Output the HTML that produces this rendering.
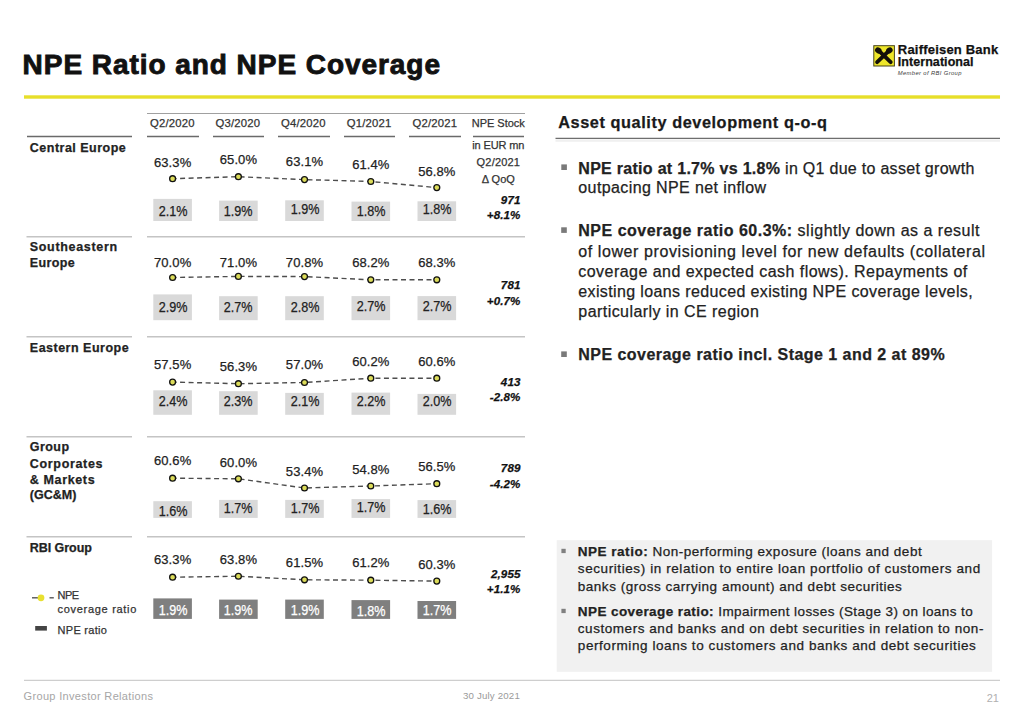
<!DOCTYPE html>
<html><head><meta charset="utf-8"><title>NPE Ratio and NPE Coverage</title>
<style>
html,body{margin:0;padding:0;background:#fff;}
body{width:1024px;height:724px;position:relative;overflow:hidden;font-family:'Liberation Sans', Arial, sans-serif;}
.t{position:absolute;white-space:nowrap;-webkit-text-stroke:0.25px currentColor;}
svg{position:absolute;left:0;top:0;}
</style></head><body>
<svg width="1024" height="724" viewBox="0 0 1024 724">
<rect x="24.00" y="95.30" width="976.00" height="3.40" fill="#e7df2a"/>
<g transform="translate(872,44)">
<rect x="1.8" y="1.7" width="20.6" height="20.3" fill="#eee62a" stroke="#46431a" stroke-width="1"/>
<g stroke="#141008" stroke-width="3.9" stroke-linecap="round" fill="none">
<line x1="5.1" y1="18.2" x2="16.3" y2="7.4"/>
<line x1="18.7" y1="18.2" x2="7.5" y2="7.4"/>
</g>
<g fill="#141008">
<ellipse cx="6.3" cy="6.4" rx="3.4" ry="2.9" transform="rotate(35 6.3 6.4)"/>
<ellipse cx="17.4" cy="6.4" rx="3.4" ry="2.9" transform="rotate(-35 17.4 6.4)"/>
</g>
</g>
<line x1="147" y1="113.5" x2="525" y2="113.5" stroke="#a0a0a0" stroke-width="1"/>
<line x1="27" y1="136.5" x2="132" y2="136.5" stroke="#6a6a6a" stroke-width="1.3"/>
<line x1="147" y1="136.5" x2="199" y2="136.5" stroke="#6a6a6a" stroke-width="1.3"/>
<line x1="213" y1="136.5" x2="264" y2="136.5" stroke="#6a6a6a" stroke-width="1.3"/>
<line x1="278" y1="136.5" x2="330" y2="136.5" stroke="#6a6a6a" stroke-width="1.3"/>
<line x1="344" y1="136.5" x2="395" y2="136.5" stroke="#6a6a6a" stroke-width="1.3"/>
<line x1="409" y1="136.5" x2="461" y2="136.5" stroke="#6a6a6a" stroke-width="1.3"/>
<line x1="473" y1="136.5" x2="524" y2="136.5" stroke="#6a6a6a" stroke-width="1.3"/>
<line x1="26.5" y1="236.7" x2="132" y2="236.7" stroke="#c4c4c4" stroke-width="1.6"/>
<line x1="147" y1="236.7" x2="525" y2="236.7" stroke="#c4c4c4" stroke-width="1.6"/>
<line x1="26.5" y1="336.7" x2="132" y2="336.7" stroke="#c4c4c4" stroke-width="1.6"/>
<line x1="147" y1="336.7" x2="525" y2="336.7" stroke="#c4c4c4" stroke-width="1.6"/>
<line x1="26.5" y1="436.7" x2="132" y2="436.7" stroke="#c4c4c4" stroke-width="1.6"/>
<line x1="147" y1="436.7" x2="525" y2="436.7" stroke="#c4c4c4" stroke-width="1.6"/>
<line x1="26.5" y1="536.7" x2="132" y2="536.7" stroke="#c4c4c4" stroke-width="1.6"/>
<line x1="147" y1="536.7" x2="525" y2="536.7" stroke="#c4c4c4" stroke-width="1.6"/>
<rect x="153.30" y="198.90" width="38.60" height="22.10" fill="#d9d9d9"/>
<rect x="219.10" y="200.60" width="38.60" height="20.40" fill="#d9d9d9"/>
<rect x="285.20" y="200.30" width="38.60" height="20.70" fill="#d9d9d9"/>
<rect x="351.50" y="201.60" width="38.60" height="19.40" fill="#d9d9d9"/>
<rect x="417.50" y="201.30" width="38.60" height="19.70" fill="#d9d9d9"/>
<polyline points="172.6,178.7 238.4,176.7 304.5,179.6 370.8,181.5 436.8,187.6" fill="none" stroke="#4d4d4d" stroke-width="1.4" stroke-dasharray="5 3.5" stroke-dashoffset="1.0"/>
<circle cx="172.6" cy="178.7" r="2.95" fill="#dcdc5a" stroke="#111" stroke-width="1.3"/>
<circle cx="238.4" cy="176.7" r="2.95" fill="#dcdc5a" stroke="#111" stroke-width="1.3"/>
<circle cx="304.5" cy="179.6" r="2.95" fill="#dcdc5a" stroke="#111" stroke-width="1.3"/>
<circle cx="370.8" cy="181.5" r="2.95" fill="#dcdc5a" stroke="#111" stroke-width="1.3"/>
<circle cx="436.8" cy="187.6" r="2.95" fill="#dcdc5a" stroke="#111" stroke-width="1.3"/>
<rect x="153.30" y="294.40" width="38.60" height="25.80" fill="#d9d9d9"/>
<rect x="219.10" y="296.20" width="38.60" height="24.00" fill="#d9d9d9"/>
<rect x="285.20" y="296.20" width="38.60" height="24.00" fill="#d9d9d9"/>
<rect x="351.50" y="296.10" width="38.60" height="24.10" fill="#d9d9d9"/>
<rect x="417.50" y="296.10" width="38.60" height="24.10" fill="#d9d9d9"/>
<polyline points="172.6,277.5 238.4,276.4 304.5,276.6 370.8,279.8 436.8,279.8" fill="none" stroke="#4d4d4d" stroke-width="1.4" stroke-dasharray="5 3.5" stroke-dashoffset="1.0"/>
<circle cx="172.6" cy="277.5" r="2.95" fill="#dcdc5a" stroke="#111" stroke-width="1.3"/>
<circle cx="238.4" cy="276.4" r="2.95" fill="#dcdc5a" stroke="#111" stroke-width="1.3"/>
<circle cx="304.5" cy="276.6" r="2.95" fill="#dcdc5a" stroke="#111" stroke-width="1.3"/>
<circle cx="370.8" cy="279.8" r="2.95" fill="#dcdc5a" stroke="#111" stroke-width="1.3"/>
<circle cx="436.8" cy="279.8" r="2.95" fill="#dcdc5a" stroke="#111" stroke-width="1.3"/>
<rect x="153.30" y="390.30" width="38.60" height="24.50" fill="#d9d9d9"/>
<rect x="219.10" y="391.20" width="38.60" height="23.60" fill="#d9d9d9"/>
<rect x="285.20" y="392.90" width="38.60" height="21.90" fill="#d9d9d9"/>
<rect x="351.50" y="392.60" width="38.60" height="22.20" fill="#d9d9d9"/>
<rect x="417.50" y="393.90" width="38.60" height="20.90" fill="#d9d9d9"/>
<polyline points="172.6,382.1 238.4,383.7 304.5,382.5 370.8,378.2 436.8,378.2" fill="none" stroke="#4d4d4d" stroke-width="1.4" stroke-dasharray="5 3.5" stroke-dashoffset="1.0"/>
<circle cx="172.6" cy="382.1" r="2.95" fill="#dcdc5a" stroke="#111" stroke-width="1.3"/>
<circle cx="238.4" cy="383.7" r="2.95" fill="#dcdc5a" stroke="#111" stroke-width="1.3"/>
<circle cx="304.5" cy="382.5" r="2.95" fill="#dcdc5a" stroke="#111" stroke-width="1.3"/>
<circle cx="370.8" cy="378.2" r="2.95" fill="#dcdc5a" stroke="#111" stroke-width="1.3"/>
<circle cx="436.8" cy="378.2" r="2.95" fill="#dcdc5a" stroke="#111" stroke-width="1.3"/>
<rect x="153.30" y="501.20" width="38.60" height="16.70" fill="#d9d9d9"/>
<rect x="219.10" y="499.90" width="38.60" height="18.00" fill="#d9d9d9"/>
<rect x="285.20" y="499.90" width="38.60" height="18.00" fill="#d9d9d9"/>
<rect x="351.50" y="499.10" width="38.60" height="18.80" fill="#d9d9d9"/>
<rect x="417.50" y="500.10" width="38.60" height="17.80" fill="#d9d9d9"/>
<polyline points="172.6,478.2 238.4,478.8 304.5,488.0 370.8,486.0 436.8,483.7" fill="none" stroke="#4d4d4d" stroke-width="1.4" stroke-dasharray="5 3.5" stroke-dashoffset="1.0"/>
<circle cx="172.6" cy="478.2" r="2.95" fill="#dcdc5a" stroke="#111" stroke-width="1.3"/>
<circle cx="238.4" cy="478.8" r="2.95" fill="#dcdc5a" stroke="#111" stroke-width="1.3"/>
<circle cx="304.5" cy="488.0" r="2.95" fill="#dcdc5a" stroke="#111" stroke-width="1.3"/>
<circle cx="370.8" cy="486.0" r="2.95" fill="#dcdc5a" stroke="#111" stroke-width="1.3"/>
<circle cx="436.8" cy="483.7" r="2.95" fill="#dcdc5a" stroke="#111" stroke-width="1.3"/>
<rect x="153.30" y="598.40" width="38.60" height="20.50" fill="#7f7f7f"/>
<rect x="219.10" y="599.60" width="38.60" height="19.30" fill="#7f7f7f"/>
<rect x="285.20" y="599.60" width="38.60" height="19.30" fill="#7f7f7f"/>
<rect x="351.50" y="600.10" width="38.60" height="18.80" fill="#7f7f7f"/>
<rect x="417.50" y="601.00" width="38.60" height="17.90" fill="#7f7f7f"/>
<polyline points="172.6,577.2 238.4,576.25 304.5,579.8 370.8,580.2 436.8,581.1" fill="none" stroke="#4d4d4d" stroke-width="1.4" stroke-dasharray="5 3.5" stroke-dashoffset="1.0"/>
<circle cx="172.6" cy="577.2" r="2.95" fill="#dcdc5a" stroke="#111" stroke-width="1.3"/>
<circle cx="238.4" cy="576.25" r="2.95" fill="#dcdc5a" stroke="#111" stroke-width="1.3"/>
<circle cx="304.5" cy="579.8" r="2.95" fill="#dcdc5a" stroke="#111" stroke-width="1.3"/>
<circle cx="370.8" cy="580.2" r="2.95" fill="#dcdc5a" stroke="#111" stroke-width="1.3"/>
<circle cx="436.8" cy="581.1" r="2.95" fill="#dcdc5a" stroke="#111" stroke-width="1.3"/>
<line x1="32" y1="597.8" x2="38" y2="597.8" stroke="#555" stroke-width="1.4"/>
<line x1="49.5" y1="597.8" x2="53.8" y2="597.8" stroke="#555" stroke-width="1.4"/>
<circle cx="41" cy="597.8" r="3.4" fill="#e8e030"/>
<rect x="35.20" y="626.00" width="11.70" height="4.60" fill="#444"/>
<line x1="555.5" y1="138.4" x2="1000" y2="138.4" stroke="#6e6e6e" stroke-width="1.3"/>
<rect x="555.50" y="139.40" width="444.50" height="2.40" fill="#f0f0f0"/>
<rect x="561.30" y="164.40" width="5.60" height="5.60" fill="#7a7a7a"/>
<rect x="561.20" y="227.30" width="5.60" height="5.60" fill="#7a7a7a"/>
<rect x="561.20" y="351.40" width="5.60" height="5.60" fill="#7a7a7a"/>
<rect x="556.70" y="540.20" width="435.40" height="131.60" fill="#f1f1f1"/>
<rect x="561.40" y="548.80" width="4.30" height="4.30" fill="#808080"/>
<rect x="561.40" y="608.80" width="4.30" height="4.30" fill="#808080"/>
<line x1="24" y1="680.4" x2="1000" y2="680.4" stroke="#cecece" stroke-width="1.2"/>
</svg>
<div class="t" id="e1" style="top:50.59px;font-size:28px;line-height:28px;color:#111;font-weight:bold;letter-spacing:0.95px;left:22.60px;-webkit-text-stroke:0.9px #111;">NPE Ratio and NPE Coverage</div>
<div class="t" id="e2" style="top:43.09px;font-size:13px;line-height:13px;color:#111;font-weight:bold;letter-spacing:0.203px;left:897.80px;">Raiffeisen Bank</div>
<div class="t" id="e3" style="top:56.22px;font-size:12.5px;line-height:12.5px;color:#111;font-weight:bold;letter-spacing:0.058px;left:897.80px;">International</div>
<div class="t" id="e4" style="top:70.99px;font-size:5.8px;line-height:5.8px;color:#3a3a3a;font-style:italic;letter-spacing:0.384px;left:897.80px;-webkit-text-stroke:0;">Member of RBI Group</div>
<div class="t" id="e5" style="top:117.93px;font-size:11.3px;line-height:11.3px;color:#333;letter-spacing:0.2px;left:112.30px;width:120px;text-align:center;text-indent:0.2px;">Q2/2020</div>
<div class="t" id="e6" style="top:117.93px;font-size:11.3px;line-height:11.3px;color:#333;letter-spacing:0.2px;left:177.70px;width:120px;text-align:center;text-indent:0.2px;">Q3/2020</div>
<div class="t" id="e7" style="top:117.93px;font-size:11.3px;line-height:11.3px;color:#333;letter-spacing:0.2px;left:243.30px;width:120px;text-align:center;text-indent:0.2px;">Q4/2020</div>
<div class="t" id="e8" style="top:117.93px;font-size:11.3px;line-height:11.3px;color:#333;letter-spacing:0.2px;left:309.00px;width:120px;text-align:center;text-indent:0.2px;">Q1/2021</div>
<div class="t" id="e9" style="top:117.93px;font-size:11.3px;line-height:11.3px;color:#333;letter-spacing:0.2px;left:374.80px;width:120px;text-align:center;text-indent:0.2px;">Q2/2021</div>
<div class="t" id="e10" style="top:118.19px;font-size:11px;line-height:11px;color:#333;letter-spacing:-0.025px;left:438.30px;width:120px;text-align:center;text-indent:-0.025px;">NPE Stock</div>
<div class="t" id="e11" style="top:139.59px;font-size:11px;line-height:11px;color:#333;letter-spacing:-0.105px;left:438.30px;width:120px;text-align:center;text-indent:-0.105px;">in EUR mn</div>
<div class="t" id="e12" style="top:157.39px;font-size:11px;line-height:11px;color:#333;letter-spacing:0.197px;left:438.30px;width:120px;text-align:center;text-indent:0.197px;">Q2/2021</div>
<div class="t" id="e13" style="top:173.59px;font-size:11px;line-height:11px;color:#333;left:438.30px;width:120px;text-align:center;">&Delta; QoQ</div>
<div class="t" id="e14" style="top:142.02px;font-size:12.5px;line-height:12.5px;color:#222;font-weight:bold;letter-spacing:0.49px;left:29.80px;">Central Europe</div>
<div class="t" id="e15" style="top:240.92px;font-size:12.5px;line-height:12.5px;color:#222;font-weight:bold;letter-spacing:0.677px;left:29.80px;">Southeastern</div>
<div class="t" id="e16" style="top:256.62px;font-size:12.5px;line-height:12.5px;color:#222;font-weight:bold;letter-spacing:0.35px;left:29.80px;">Europe</div>
<div class="t" id="e17" style="top:341.72px;font-size:12.5px;line-height:12.5px;color:#222;font-weight:bold;letter-spacing:0.493px;left:29.80px;">Eastern Europe</div>
<div class="t" id="e18" style="top:441.42px;font-size:12.5px;line-height:12.5px;color:#222;font-weight:bold;letter-spacing:0.45px;left:29.80px;">Group</div>
<div class="t" id="e19" style="top:457.62px;font-size:12.5px;line-height:12.5px;color:#222;font-weight:bold;letter-spacing:0.672px;left:29.80px;">Corporates</div>
<div class="t" id="e20" style="top:473.72px;font-size:12.5px;line-height:12.5px;color:#222;font-weight:bold;letter-spacing:0.63px;left:29.80px;">&amp; Markets</div>
<div class="t" id="e21" style="top:489.02px;font-size:12.5px;line-height:12.5px;color:#222;font-weight:bold;left:29.80px;">(GC&amp;M)</div>
<div class="t" id="e22" style="top:541.72px;font-size:12.5px;line-height:12.5px;color:#222;font-weight:bold;letter-spacing:-0.05px;left:29.80px;">RBI Group</div>
<div class="t" id="e23" style="top:203.55px;font-size:14px;line-height:14px;color:#222;left:112.60px;width:120px;text-align:center;transform:scaleX(0.9);">2.1%</div>
<div class="t" id="e24" style="top:203.95px;font-size:14px;line-height:14px;color:#222;left:178.40px;width:120px;text-align:center;transform:scaleX(0.9);">1.9%</div>
<div class="t" id="e25" style="top:201.85px;font-size:14px;line-height:14px;color:#222;left:244.50px;width:120px;text-align:center;transform:scaleX(0.9);">1.9%</div>
<div class="t" id="e26" style="top:204.45px;font-size:14px;line-height:14px;color:#222;left:310.80px;width:120px;text-align:center;transform:scaleX(0.9);">1.8%</div>
<div class="t" id="e27" style="top:202.15px;font-size:14px;line-height:14px;color:#222;left:376.80px;width:120px;text-align:center;transform:scaleX(0.9);">1.8%</div>
<div class="t" id="e28" style="top:155.59px;font-size:13px;line-height:13px;color:#222;letter-spacing:0.1px;left:112.60px;width:120px;text-align:center;text-indent:0.1px;">63.3%</div>
<div class="t" id="e29" style="top:153.19px;font-size:13px;line-height:13px;color:#222;letter-spacing:0.1px;left:178.40px;width:120px;text-align:center;text-indent:0.1px;">65.0%</div>
<div class="t" id="e30" style="top:155.49px;font-size:13px;line-height:13px;color:#222;letter-spacing:0.1px;left:244.50px;width:120px;text-align:center;text-indent:0.1px;">63.1%</div>
<div class="t" id="e31" style="top:158.39px;font-size:13px;line-height:13px;color:#222;letter-spacing:0.1px;left:310.80px;width:120px;text-align:center;text-indent:0.1px;">61.4%</div>
<div class="t" id="e32" style="top:164.69px;font-size:13px;line-height:13px;color:#222;letter-spacing:0.1px;left:376.80px;width:120px;text-align:center;text-indent:0.1px;">56.8%</div>
<div class="t" id="e33" style="top:193.78px;font-size:11.6px;line-height:11.6px;color:#111;font-weight:bold;font-style:italic;letter-spacing:0.1px;left:400.50px;width:120px;text-align:right;">971</div>
<div class="t" id="e34" style="top:208.98px;font-size:11.6px;line-height:11.6px;color:#111;font-weight:bold;font-style:italic;letter-spacing:0.1px;left:400.50px;width:120px;text-align:right;">+8.1%</div>
<div class="t" id="e35" style="top:299.85px;font-size:14px;line-height:14px;color:#222;left:112.60px;width:120px;text-align:center;transform:scaleX(0.9);">2.9%</div>
<div class="t" id="e36" style="top:299.85px;font-size:14px;line-height:14px;color:#222;left:178.40px;width:120px;text-align:center;transform:scaleX(0.9);">2.7%</div>
<div class="t" id="e37" style="top:299.85px;font-size:14px;line-height:14px;color:#222;left:244.50px;width:120px;text-align:center;transform:scaleX(0.9);">2.8%</div>
<div class="t" id="e38" style="top:299.45px;font-size:14px;line-height:14px;color:#222;left:310.80px;width:120px;text-align:center;transform:scaleX(0.9);">2.7%</div>
<div class="t" id="e39" style="top:299.45px;font-size:14px;line-height:14px;color:#222;left:376.80px;width:120px;text-align:center;transform:scaleX(0.9);">2.7%</div>
<div class="t" id="e40" style="top:256.09px;font-size:13px;line-height:13px;color:#222;letter-spacing:0.1px;left:112.60px;width:120px;text-align:center;text-indent:0.1px;">70.0%</div>
<div class="t" id="e41" style="top:255.99px;font-size:13px;line-height:13px;color:#222;letter-spacing:0.1px;left:178.40px;width:120px;text-align:center;text-indent:0.1px;">71.0%</div>
<div class="t" id="e42" style="top:255.99px;font-size:13px;line-height:13px;color:#222;letter-spacing:0.1px;left:244.50px;width:120px;text-align:center;text-indent:0.1px;">70.8%</div>
<div class="t" id="e43" style="top:256.49px;font-size:13px;line-height:13px;color:#222;letter-spacing:0.1px;left:310.80px;width:120px;text-align:center;text-indent:0.1px;">68.2%</div>
<div class="t" id="e44" style="top:256.49px;font-size:13px;line-height:13px;color:#222;letter-spacing:0.1px;left:376.80px;width:120px;text-align:center;text-indent:0.1px;">68.3%</div>
<div class="t" id="e45" style="top:279.18px;font-size:11.6px;line-height:11.6px;color:#111;font-weight:bold;font-style:italic;letter-spacing:0.1px;left:400.50px;width:120px;text-align:right;">781</div>
<div class="t" id="e46" style="top:294.78px;font-size:11.6px;line-height:11.6px;color:#111;font-weight:bold;font-style:italic;letter-spacing:0.1px;left:400.50px;width:120px;text-align:right;">+0.7%</div>
<div class="t" id="e47" style="top:394.25px;font-size:14px;line-height:14px;color:#222;left:112.60px;width:120px;text-align:center;transform:scaleX(0.9);">2.4%</div>
<div class="t" id="e48" style="top:394.25px;font-size:14px;line-height:14px;color:#222;left:178.40px;width:120px;text-align:center;transform:scaleX(0.9);">2.3%</div>
<div class="t" id="e49" style="top:394.25px;font-size:14px;line-height:14px;color:#222;left:244.50px;width:120px;text-align:center;transform:scaleX(0.9);">2.1%</div>
<div class="t" id="e50" style="top:393.75px;font-size:14px;line-height:14px;color:#222;left:310.80px;width:120px;text-align:center;transform:scaleX(0.9);">2.2%</div>
<div class="t" id="e51" style="top:393.75px;font-size:14px;line-height:14px;color:#222;left:376.80px;width:120px;text-align:center;transform:scaleX(0.9);">2.0%</div>
<div class="t" id="e52" style="top:358.39px;font-size:13px;line-height:13px;color:#222;letter-spacing:0.1px;left:112.60px;width:120px;text-align:center;text-indent:0.1px;">57.5%</div>
<div class="t" id="e53" style="top:360.39px;font-size:13px;line-height:13px;color:#222;letter-spacing:0.1px;left:178.40px;width:120px;text-align:center;text-indent:0.1px;">56.3%</div>
<div class="t" id="e54" style="top:358.39px;font-size:13px;line-height:13px;color:#222;letter-spacing:0.1px;left:244.50px;width:120px;text-align:center;text-indent:0.1px;">57.0%</div>
<div class="t" id="e55" style="top:354.69px;font-size:13px;line-height:13px;color:#222;letter-spacing:0.1px;left:310.80px;width:120px;text-align:center;text-indent:0.1px;">60.2%</div>
<div class="t" id="e56" style="top:354.69px;font-size:13px;line-height:13px;color:#222;letter-spacing:0.1px;left:376.80px;width:120px;text-align:center;text-indent:0.1px;">60.6%</div>
<div class="t" id="e57" style="top:375.78px;font-size:11.6px;line-height:11.6px;color:#111;font-weight:bold;font-style:italic;letter-spacing:0.1px;left:400.50px;width:120px;text-align:right;">413</div>
<div class="t" id="e58" style="top:391.43px;font-size:11.6px;line-height:11.6px;color:#111;font-weight:bold;font-style:italic;letter-spacing:0.1px;left:400.50px;width:120px;text-align:right;">-2.8%</div>
<div class="t" id="e59" style="top:504.25px;font-size:14px;line-height:14px;color:#222;left:112.60px;width:120px;text-align:center;transform:scaleX(0.9);">1.6%</div>
<div class="t" id="e60" style="top:500.75px;font-size:14px;line-height:14px;color:#222;left:178.40px;width:120px;text-align:center;transform:scaleX(0.9);">1.7%</div>
<div class="t" id="e61" style="top:500.75px;font-size:14px;line-height:14px;color:#222;left:244.50px;width:120px;text-align:center;transform:scaleX(0.9);">1.7%</div>
<div class="t" id="e62" style="top:500.35px;font-size:14px;line-height:14px;color:#222;left:310.80px;width:120px;text-align:center;transform:scaleX(0.9);">1.7%</div>
<div class="t" id="e63" style="top:501.85px;font-size:14px;line-height:14px;color:#222;left:376.80px;width:120px;text-align:center;transform:scaleX(0.9);">1.6%</div>
<div class="t" id="e64" style="top:454.49px;font-size:13px;line-height:13px;color:#222;letter-spacing:0.1px;left:112.60px;width:120px;text-align:center;text-indent:0.1px;">60.6%</div>
<div class="t" id="e65" style="top:455.89px;font-size:13px;line-height:13px;color:#222;letter-spacing:0.1px;left:178.40px;width:120px;text-align:center;text-indent:0.1px;">60.0%</div>
<div class="t" id="e66" style="top:464.89px;font-size:13px;line-height:13px;color:#222;letter-spacing:0.1px;left:244.50px;width:120px;text-align:center;text-indent:0.1px;">53.4%</div>
<div class="t" id="e67" style="top:463.29px;font-size:13px;line-height:13px;color:#222;letter-spacing:0.1px;left:310.80px;width:120px;text-align:center;text-indent:0.1px;">54.8%</div>
<div class="t" id="e68" style="top:460.39px;font-size:13px;line-height:13px;color:#222;letter-spacing:0.1px;left:376.80px;width:120px;text-align:center;text-indent:0.1px;">56.5%</div>
<div class="t" id="e69" style="top:462.48px;font-size:11.6px;line-height:11.6px;color:#111;font-weight:bold;font-style:italic;letter-spacing:0.1px;left:400.50px;width:120px;text-align:right;">789</div>
<div class="t" id="e70" style="top:477.78px;font-size:11.6px;line-height:11.6px;color:#111;font-weight:bold;font-style:italic;letter-spacing:0.1px;left:400.50px;width:120px;text-align:right;">-4.2%</div>
<div class="t" id="e71" style="top:602.55px;font-size:14px;line-height:14px;color:#fff;left:112.60px;width:120px;text-align:center;transform:scaleX(0.9);">1.9%</div>
<div class="t" id="e72" style="top:602.55px;font-size:14px;line-height:14px;color:#fff;left:178.40px;width:120px;text-align:center;transform:scaleX(0.9);">1.9%</div>
<div class="t" id="e73" style="top:602.55px;font-size:14px;line-height:14px;color:#fff;left:244.50px;width:120px;text-align:center;transform:scaleX(0.9);">1.9%</div>
<div class="t" id="e74" style="top:603.65px;font-size:14px;line-height:14px;color:#fff;left:310.80px;width:120px;text-align:center;transform:scaleX(0.9);">1.8%</div>
<div class="t" id="e75" style="top:602.85px;font-size:14px;line-height:14px;color:#fff;left:376.80px;width:120px;text-align:center;transform:scaleX(0.9);">1.7%</div>
<div class="t" id="e76" style="top:553.49px;font-size:13px;line-height:13px;color:#222;letter-spacing:0.1px;left:112.60px;width:120px;text-align:center;text-indent:0.1px;">63.3%</div>
<div class="t" id="e77" style="top:553.09px;font-size:13px;line-height:13px;color:#222;letter-spacing:0.1px;left:178.40px;width:120px;text-align:center;text-indent:0.1px;">63.8%</div>
<div class="t" id="e78" style="top:556.49px;font-size:13px;line-height:13px;color:#222;letter-spacing:0.1px;left:244.50px;width:120px;text-align:center;text-indent:0.1px;">61.5%</div>
<div class="t" id="e79" style="top:556.49px;font-size:13px;line-height:13px;color:#222;letter-spacing:0.1px;left:310.80px;width:120px;text-align:center;text-indent:0.1px;">61.2%</div>
<div class="t" id="e80" style="top:557.79px;font-size:13px;line-height:13px;color:#222;letter-spacing:0.1px;left:376.80px;width:120px;text-align:center;text-indent:0.1px;">60.3%</div>
<div class="t" id="e81" style="top:567.98px;font-size:11.6px;line-height:11.6px;color:#111;font-weight:bold;font-style:italic;letter-spacing:0.1px;left:400.50px;width:120px;text-align:right;">2,955</div>
<div class="t" id="e82" style="top:583.08px;font-size:11.6px;line-height:11.6px;color:#111;font-weight:bold;font-style:italic;letter-spacing:0.1px;left:400.50px;width:120px;text-align:right;">+1.1%</div>
<div class="t" id="e83" style="top:589.99px;font-size:11px;line-height:11px;color:#333;letter-spacing:-0.5px;left:57.50px;">NPE</div>
<div class="t" id="e84" style="top:604.29px;font-size:11px;line-height:11px;color:#333;letter-spacing:0.704px;left:57.50px;">coverage ratio</div>
<div class="t" id="e85" style="top:624.99px;font-size:11px;line-height:11px;color:#333;letter-spacing:0.3px;left:57.50px;">NPE ratio</div>
<div class="t" id="e86" style="top:113.70px;font-size:16.3px;line-height:16.3px;color:#1a1a1a;font-weight:bold;letter-spacing:0.57px;left:558.30px;">Asset quality development q-o-q</div>
<div class="t" id="e87" style="top:160.55px;font-size:16px;line-height:16px;color:#222;letter-spacing:0.29px;left:578.30px;"><b>NPE ratio at 1.7% vs 1.8%</b> in Q1 due to asset growth</div>
<div class="t" id="e88" style="top:180.05px;font-size:16px;line-height:16px;color:#222;letter-spacing:0.391px;left:578.30px;">outpacing NPE net inflow</div>
<div class="t" id="e89" style="top:223.35px;font-size:16px;line-height:16px;color:#222;letter-spacing:0.5px;left:578.30px;"><b>NPE coverage ratio 60.3%:</b> slightly down as a result</div>
<div class="t" id="e90" style="top:243.55px;font-size:16px;line-height:16px;color:#222;letter-spacing:0.587px;left:578.30px;">of lower provisioning level for new defaults (collateral</div>
<div class="t" id="e91" style="top:263.75px;font-size:16px;line-height:16px;color:#222;letter-spacing:0.46px;left:578.30px;">coverage and expected cash flows). Repayments of</div>
<div class="t" id="e92" style="top:283.95px;font-size:16px;line-height:16px;color:#222;letter-spacing:0.373px;left:578.30px;">existing loans reduced existing NPE coverage levels,</div>
<div class="t" id="e93" style="top:304.15px;font-size:16px;line-height:16px;color:#222;letter-spacing:0.443px;left:578.30px;">particularly in CE region</div>
<div class="t" id="e94" style="top:347.35px;font-size:16px;line-height:16px;color:#222;letter-spacing:0.464px;left:578.30px;"><b>NPE coverage ratio incl. Stage 1 and 2 at 89%</b></div>
<div class="t" id="e95" style="top:545.07px;font-size:13.5px;line-height:13.5px;color:#222;letter-spacing:0.509px;left:577.80px;"><b>NPE ratio:</b> Non-performing exposure (loans and debt</div>
<div class="t" id="e96" style="top:562.47px;font-size:13.5px;line-height:13.5px;color:#222;letter-spacing:0.589px;left:577.80px;">securities) in relation to entire loan portfolio of customers and</div>
<div class="t" id="e97" style="top:579.87px;font-size:13.5px;line-height:13.5px;color:#222;letter-spacing:0.514px;left:577.80px;">banks (gross carrying amount) and debt securities</div>
<div class="t" id="e98" style="top:604.97px;font-size:13.5px;line-height:13.5px;color:#222;letter-spacing:0.418px;left:577.80px;"><b>NPE coverage ratio:</b> Impairment losses (Stage 3) on loans to</div>
<div class="t" id="e99" style="top:622.17px;font-size:13.5px;line-height:13.5px;color:#222;letter-spacing:0.547px;left:577.80px;">customers and banks and on debt securities in relation to non-</div>
<div class="t" id="e100" style="top:639.37px;font-size:13.5px;line-height:13.5px;color:#222;letter-spacing:0.574px;left:577.80px;">performing loans to customers and banks and debt securities</div>
<div class="t" id="e101" style="top:691.49px;font-size:11px;line-height:11px;color:#a6a6a6;letter-spacing:0.331px;left:23.60px;-webkit-text-stroke:0;">Group Investor Relations</div>
<div class="t" id="e102" style="top:691.29px;font-size:9.7px;line-height:9.7px;color:#9a9a9a;letter-spacing:0.179px;left:462.90px;-webkit-text-stroke:0;">30 July 2021</div>
<div class="t" id="e103" style="top:692.69px;font-size:11px;line-height:11px;color:#b0b0b0;left:879.00px;width:120px;text-align:right;-webkit-text-stroke:0;">21</div>
</body></html>
